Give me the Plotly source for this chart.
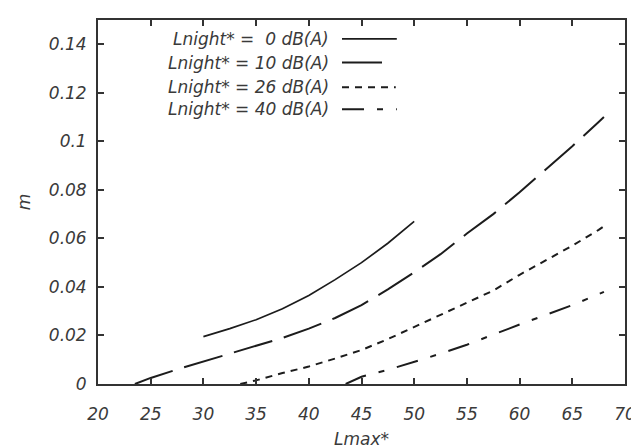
import plotly.graph_objects as go

# ---- data ----
x_n0 = [30, 32.5, 35, 37.5, 40, 42.5, 45, 47.5, 50]
m_n0 = [0.0195, 0.0228, 0.0265, 0.031, 0.0365, 0.043, 0.050, 0.058, 0.067]

x_n10 = [23.5, 25, 27.5, 30, 32.5, 35, 37.5, 40, 42.5, 45, 47.5, 50, 52.5, 55, 57.5, 60, 62.5, 65, 67.5, 68]
m_n10 = [0.0, 0.0025, 0.006, 0.0092, 0.0125, 0.0155, 0.019, 0.0228, 0.0272, 0.0325, 0.039, 0.046,
         0.0535, 0.062, 0.070, 0.079, 0.0885, 0.098, 0.108, 0.110]

x_n26 = [33.5, 35, 37.5, 40, 42.5, 45, 47.5, 50, 52.5, 55, 57.5, 60, 62.5, 65, 67.5, 68]
m_n26 = [0.0, 0.0015, 0.0045, 0.0072, 0.0105, 0.014, 0.0185, 0.0235, 0.0285, 0.0335, 0.0385,
         0.045, 0.051, 0.057, 0.0635, 0.065]

x_n40 = [43.5, 45, 47.5, 50, 52.5, 55, 57.5, 60, 62.5, 65, 67.5, 68]
m_n40 = [0.0, 0.003, 0.0058, 0.009, 0.0125, 0.0162, 0.0205, 0.0245, 0.0285, 0.0325, 0.037, 0.038]

legend_labels = ["Lnight* =\u00a0\u00a00 dB(A)", "Lnight* = 10 dB(A)",
                 "Lnight* = 26 dB(A)", "Lnight* = 40 dB(A)"]

x_ticks = [20, 25, 30, 35, 40, 45, 50, 55, 60, 65, 70]
y_ticks = [0, 0.02, 0.04, 0.06, 0.08, 0.1, 0.12, 0.14]
y_tick_labels = ["0", "0.02", "0.04", "0.06", "0.08", "0.1", "0.12", "0.14"]

# ---- styles ----
line_col = "#1c1c1c"
text_col = "#3a3a3a"
font_fam = "DejaVu Sans"
dashes = ["solid", "40px,12px", "7px,6px", "22px,13px,6px,13px"]
widths = [1.7, 2.0, 2.0, 2.0]

series = [(x_n0, m_n0), (x_n10, m_n10), (x_n26, m_n26), (x_n40, m_n40)]

fig = go.Figure()
for (xs, ms), lab, d, w in zip(series, legend_labels, dashes, widths):
    fig.add_trace(go.Scatter(x=xs, y=ms, mode="lines", name=lab, showlegend=False,
                             line=dict(color=line_col, width=w, dash=d)))

# gnuplot-style key: text right-aligned, line sample on its right
row_y = [0.948, 0.883, 0.815, 0.755]
sample_end = [0.567, 0.545, 0.565, 0.567]
for lab, ry, d, w, xe in zip(legend_labels, row_y, dashes, widths, sample_end):
    fig.add_annotation(x=0.442, y=ry, xref="paper", yref="paper", xanchor="right",
                       yanchor="middle", showarrow=False, text="<i>" + lab + "</i>",
                       font=dict(family=font_fam, size=17, color=text_col))
    fig.add_shape(type="line", xref="paper", yref="paper", x0=0.463, x1=xe,
                  y0=ry, y1=ry, line=dict(color=line_col, width=w, dash=d))

axis_common = dict(showgrid=False, zeroline=False, showline=True, linecolor="#333333",
                   linewidth=1.8, mirror="ticks", ticks="inside", ticklen=6,
                   tickcolor="#333333", tickwidth=1.5,
                   tickfont=dict(family=font_fam, size=17, color=text_col, style="italic"))

fig.update_layout(
    width=639, height=448,
    margin=dict(l=90, r=22, t=10, b=71),
    paper_bgcolor="white", plot_bgcolor="white",
    xaxis=dict(range=[20, 70], tickvals=x_ticks, ticklabelstandoff=14,
               title=dict(text="<i>Lmax*</i>", standoff=10,
                          font=dict(family=font_fam, size=17, color=text_col)),
               **axis_common),
    yaxis=dict(range=[0, 0.15], tickvals=y_ticks, ticktext=y_tick_labels,
               ticklabelstandoff=6,
               title=dict(text="<i>m</i>", standoff=14,
                          font=dict(family=font_fam, size=17, color=text_col)),
               **axis_common),
)

fig.write_html("out.html")
